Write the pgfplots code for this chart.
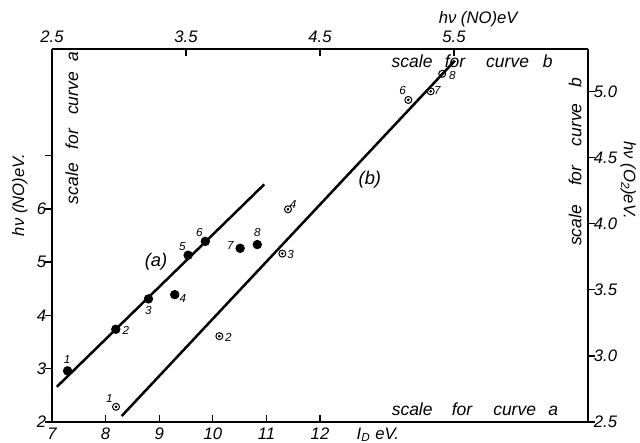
\documentclass[border=0pt]{standalone}
\usepackage{pgfplots}
\pgfplotsset{compat=1.18}
\usepackage{fontspec}
\setmainfont{Liberation Sans}
\newcommand{\tl}{\itshape\fontsize{10}{12}\selectfont}
\newcommand{\pl}{\itshape\fontsize{7}{8}\selectfont}
\newcommand{\scf}{\itshape\fontsize{10.5}{12}\selectfont}
\begin{document}
\begin{tikzpicture}
\pgfplotsset{
  common/.style={width=321.6pt,height=223.8pt,scale only axis,clip=false,
    axis line style={line width=0.9pt,-},
    tick align=inside, major tick length=4pt,
    every tick/.append style={black,line width=0.8pt},
    tick label style={font=\tl},
    /pgf/number format/assume math mode=true,
  }
}
% ---------- curve a : bottom / left scales ----------
\begin{axis}[common, name=A, xmin=7, xmax=17, ymin=2, ymax=9,
  axis x line*=bottom, axis y line*=left,
  xtick={7,8,9,10,11,12}, ytick={2,3,4,5,6,7}, yticklabels={2,3,4,5,6,{}},
  ytick style={xshift=-4pt}]
\addplot[black, line width=1.5pt, no marks] coordinates {(7.09,2.66) (10.96,6.46)};
\addplot[only marks, mark=*, mark size=2.6pt, black] coordinates {
  (7.29,2.96) (8.19,3.74) (8.80,4.31) (9.29,4.39) (9.54,5.13) (9.86,5.39) (10.51,5.26) (10.83,5.33)};
% point labels a
\node[font=\pl] at (axis cs:7.28,3.17) {1};
\node[font=\pl] at (axis cs:8.38,3.71) {2};
\node[font=\pl] at (axis cs:8.80,4.10) {3};
\node[font=\pl] at (axis cs:9.44,4.31) {4};
\node[font=\pl] at (axis cs:9.43,5.30) {5};
\node[font=\pl] at (axis cs:9.75,5.56) {6};
\node[font=\pl] at (axis cs:10.33,5.31) {7};
\node[font=\pl] at (axis cs:10.83,5.55) {8};
% point labels b
\node[font=\pl] at (axis cs:8.07,2.45) {1};
\node[font=\pl] at (axis cs:10.29,3.59) {2};
\node[font=\pl] at (axis cs:11.45,5.15) {3};
\node[font=\pl] at (axis cs:11.50,6.08) {4};
\node[font=\pl] at (axis cs:13.54,8.22) {6};
\node[font=\pl] at (axis cs:14.19,8.22) {7};
\node[font=\pl] at (axis cs:14.47,8.51) {8};
% curve names
\node[font=\itshape\fontsize{11}{12}\selectfont] at (axis cs:8.94,5.00) {(a)};
\node[font=\itshape\fontsize{11}{12}\selectfont] at (axis cs:12.93,6.54) {(b)};
% scale texts
\node[font=\scf, rotate=90] at (axis cs:7.37,7.52) {scale\hspace{0.8em}for\hspace{0.8em}curve\hspace{0.6em}a};
\node[font=\scf] at (axis cs:14.89,2.24) {scale\hspace{1.1em}for\hspace{1.2em}curve\hspace{0.7em}a};
\node[font=\scf] at (axis cs:14.84,8.77) {scale\hspace{0.7em}for\hspace{1.2em}curve\hspace{0.8em}b};
\node[font=\scf, rotate=90] at (axis cs:16.76,6.88) {scale\hspace{1.1em}for\hspace{1.1em}curve\hspace{0.9em}b};
% axis labels
\node[font=\tl] at (axis cs:13.08,1.76) {I\textsubscript{D} eV.};
\node[font=\tl] at (axis cs:14.95,9.56) {hν (NO)eV};
\node[font=\tl, rotate=90] at (axis cs:6.40,6.26) {hν (NO)eV.};
\node[font=\tl, rotate=-90] at (axis cs:17.75,6.54) {hν (O\textsubscript{2})eV.};
\end{axis}
% ---------- curve b : top / right scales ----------
\begin{axis}[common, xmin=2.5, xmax=6.5, ymin=2.5, ymax=5.32,
  axis x line*=top, axis y line*=right,
  xtick={2.5,3.5,4.5,5.5}, xticklabels={2.5,3.5,4.5,5.5},
  ytick={2.5,3.0,3.5,4.0,4.5,5.0}, yticklabels={2.5,3.0,3.5,4.0,4.5,5.0},
  ytick style={xshift=4pt}]
\addplot[black, line width=1.5pt, no marks] coordinates {(3.020,2.545) (5.507,5.232)};
\addplot[only marks, mark=o, mark size=2.1pt, black, mark options={line width=0.6pt}] coordinates {
  (2.978,2.615) (3.749,3.149) (4.219,3.773) (4.261,4.108) (5.159,4.935) (5.326,5.000) (5.412,5.132)};
\addplot[only marks, mark=*, mark size=0.6pt, black] coordinates {
  (2.978,2.615) (3.749,3.149) (4.219,3.773) (4.261,4.108) (5.159,4.935) (5.326,5.000) (5.412,5.132)};
\end{axis}
\pgfresetboundingbox
\path[use as bounding box] ([shift={(-31.2pt,-12.6pt)}]A.south west) rectangle ([shift={(31.2pt,29.4pt)}]A.north east);
\end{tikzpicture}
\end{document}
